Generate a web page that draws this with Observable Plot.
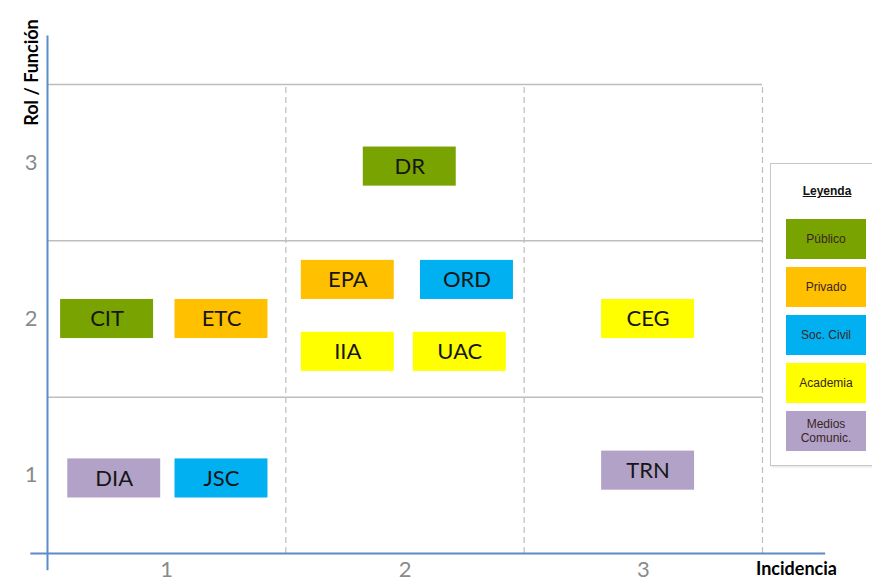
<!DOCTYPE html>
<html>
<head>
<meta charset="utf-8">
<script src="https://cdn.jsdelivr.net/npm/d3@7"></script>
<script src="https://cdn.jsdelivr.net/npm/@observablehq/plot@0.6"></script>
<style>
  html, body { margin: 0; padding: 0; background: #fff; }
  #wrap { position: relative; width: 872px; height: 583px; overflow: hidden; font-family: Lato, "Open Sans", sans-serif; }
  #legend { position: absolute; left: 770px; top: 163px; width: 110px; height: 303px; border: 1.5px solid #c8c8c8; box-sizing: border-box; background: #fff; box-shadow: 1px 1px 2px rgba(0,0,0,0.12); font-family: "Liberation Sans", Arial, sans-serif; }
  #legend .title { position: absolute; left: 0; width: 112px; top: 20px; text-align: center; font-weight: bold; font-size: 12px; text-decoration: underline; color: #111; }
  #legend .sw { position: absolute; left: 15px; width: 80px; height: 40px; display: flex; align-items: center; justify-content: center; text-align: center; font-size: 12px; line-height: 14px; color: #3a2424; }
</style>
</head>
<body>
<div id="wrap"></div>
<script>
// ---- data ----
const labels     = ["DR", "CIT", "ETC", "EPA", "ORD", "IIA", "UAC", "CEG", "DIA", "JSC", "TRN"];
const incidencia = [2.02, 0.75, 1.23, 1.76, 2.26, 1.76, 2.23, 3.02, 0.78, 1.23, 3.02];
const rol        = [2.975, 2.0, 2.0, 2.25, 2.25, 1.79, 1.79, 2.0, 0.98, 0.98, 1.03];
const sector     = ["Público", "Público", "Privado", "Privado", "Soc. Civil", "Academia", "Academia", "Academia", "Medios Comunic.", "Soc. Civil", "Medios Comunic."];

const categories = ["Público", "Privado", "Soc. Civil", "Academia", "Medios Comunic."];
const categoryLines = [["Público"], ["Privado"], ["Soc. Civil"], ["Academia"], ["Medios", "Comunic."]];
const colors = ["#78a300", "#ffc000", "#00b0f0", "#ffff00", "#b3a2c7"];

const xTicks = [1, 2, 3];
const yTicks = [1, 2, 3];
const xBounds = [1.5, 2.5, 3.5];
const yBounds = [1.5, 2.5, 3.5];

const xTitle = "Incidencia";
const yTitle = "Rol / Función";
const legendTitle = "Leyenda";

const boxes = labels.map((l, i) => ({label: l, x: incidencia[i], y: rol[i], sector: sector[i]}));

const hw = 0.195, hh = 0.125;
const axisColor = "#5b8cc8";
const gridColor = "#bdbdbd";

const svg = Plot.plot({
  width: 872,
  height: 583,
  marginLeft: 47,
  marginRight: 110,
  marginTop: 84,
  marginBottom: 30,
  style: {fontFamily: "Lato, 'Open Sans', sans-serif", background: "white"},
  x: {domain: [0.5, 3.5]},
  y: {domain: [0.5, 3.5]},
  color: {domain: categories, range: colors},
  marks: [
    // grid
    Plot.ruleY(yBounds, {x1: 0.5, x2: 3.5, stroke: gridColor, strokeWidth: 1.5}),
    Plot.ruleX(xBounds, {y1: 0.5, y2: 3.5, stroke: gridColor, strokeWidth: 1.2, strokeDasharray: "6,4"}),
    // axes lines
    Plot.ruleX([0.5], {y1: 0.39, y2: 3.81, stroke: axisColor, strokeWidth: 2, clip: false}),
    Plot.ruleY([0.5], {x1: 0.43, x2: 3.765, stroke: axisColor, strokeWidth: 2, clip: false}),
    // tick labels
    Plot.axisX(xTicks, {tickSize: 0, tickPadding: 8, fontSize: 22, color: "#8a8a8a", tickFormat: "d", label: null}),
    Plot.axisY(yTicks, {tickSize: 0, tickPadding: 10, fontSize: 22, color: "#8a8a8a", tickFormat: "d", label: null}),
    // axis titles
    Plot.text([yTitle], {frameAnchor: "top-left", dx: -22, dy: -12, rotate: -90, textAnchor: "middle", fontSize: 18, fontWeight: "bold", fill: "#000"}),
    Plot.text([xTitle], {frameAnchor: "bottom-right", dx: 34, dy: 21, textAnchor: "middle", fontSize: 18, fontWeight: "bold", fill: "#000"}),
    // boxes
    Plot.rect(boxes, {x1: d => d.x - hw, x2: d => d.x + hw, y1: d => d.y - hh, y2: d => d.y + hh, fill: "sector"}),
    Plot.text(boxes, {x: "x", y: "y", text: "label", fontSize: 22, fill: "#161616"})
  ]
});

const wrap = document.getElementById("wrap");
wrap.appendChild(svg);

// legend
const legend = document.createElement("div");
legend.id = "legend";
const t = document.createElement("div");
t.className = "title";
t.textContent = legendTitle;
legend.appendChild(t);
categories.forEach((c, i) => {
  const sw = document.createElement("div");
  sw.className = "sw";
  sw.style.top = (55 + i * 48) + "px";
  sw.style.background = colors[i];
  sw.innerHTML = categoryLines[i].join("<br>");
  legend.appendChild(sw);
});
wrap.appendChild(legend);
</script>
</body>
</html>
